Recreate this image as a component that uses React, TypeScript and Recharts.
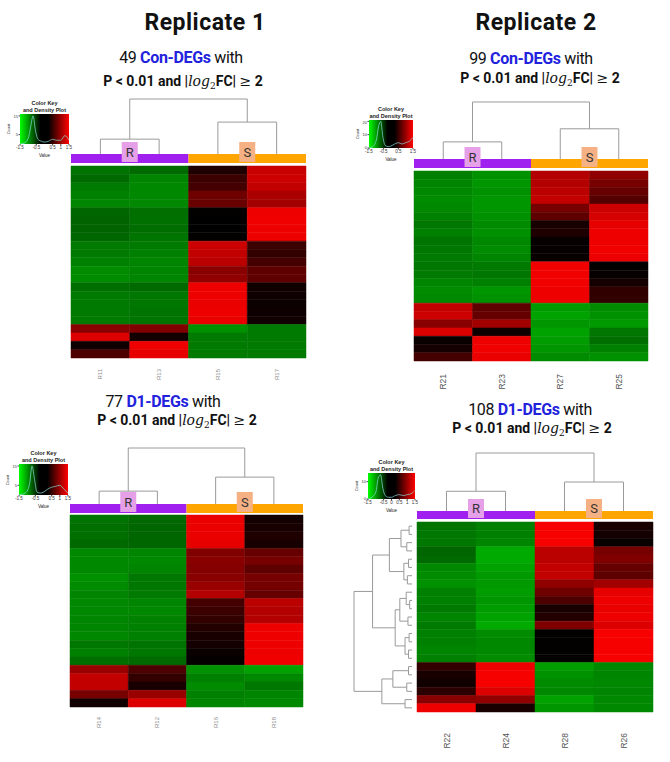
import React from "react"
import { ComposedChart, Line, XAxis, YAxis, ReferenceArea, ReferenceLine } from "recharts"

type Tree = number | [Tree, Tree, number]

// ---------- data ----------
const replicateTitles = ["Replicate 1", "Replicate 2"]
const degCounts = [49, 99, 77, 108]
const degSets = ["Con-DEGs", "Con-DEGs", "D1-DEGs", "D1-DEGs"]
const groupOfSample = ["R", "R", "S", "S"]

const samplesCon1 = ["R11", "R13", "R15", "R17"]
const samplesCon2 = ["R21", "R23", "R27", "R25"]
const samplesD1a = ["R14", "R12", "R16", "R18"]
const samplesD1b = ["R22", "R24", "R28", "R26"]

// row-scaled expression, top row first, columns in sample order
const exprCon1 = [
  [-0.68, -0.62, 0.18, 1.18],
  [-0.62, -0.78, 0.35, 1.2],
  [-0.72, -0.8, 0.4, 1.15],
  [-0.75, -0.8, 0.65, 1.0],
  [-0.78, -0.8, 0.62, 0.95],
  [-0.6, -0.65, 0.02, 1.4],
  [-0.58, -0.66, 0.0, 1.42],
  [-0.58, -0.64, 0.0, 1.4],
  [-0.6, -0.68, 0.02, 1.4],
  [-0.72, -0.72, 1.2, 0.35],
  [-0.72, -0.75, 1.15, 0.3],
  [-0.75, -0.78, 1.1, 0.4],
  [-0.82, -0.78, 0.8, 0.55],
  [-0.82, -0.78, 0.85, 0.55],
  [-0.65, -0.62, 1.4, 0.1],
  [-0.72, -0.7, 1.4, 0.08],
  [-0.72, -0.7, 1.38, 0.07],
  [-0.72, -0.68, 1.4, 0.08],
  [-0.72, -0.68, 1.38, 0.1],
  [0.8, 0.75, -0.85, -0.72],
  [1.3, 0.1, -0.72, -0.72],
  [0.08, 1.4, -0.72, -0.72],
  [0.45, 1.35, -0.72, -0.72],
]

const exprCon2 = [
  [-0.75, -0.85, 1.05, 0.85],
  [-0.78, -0.88, 1.05, 0.7],
  [-0.8, -0.85, 1.1, 0.6],
  [-0.82, -0.88, 1.15, 0.5],
  [-0.8, -0.88, 0.7, 1.2],
  [-0.75, -0.85, 0.55, 1.25],
  [-0.7, -0.82, 0.15, 1.35],
  [-0.75, -0.85, 0.18, 1.4],
  [-0.68, -0.8, 0.04, 1.4],
  [-0.7, -0.82, 0.04, 1.42],
  [-0.72, -0.78, 0.05, 1.4],
  [-0.7, -0.72, 1.42, 0.02],
  [-0.72, -0.7, 1.42, 0.04],
  [-0.78, -0.75, 1.42, 0.12],
  [-0.82, -0.88, 1.4, 0.28],
  [-0.8, -0.85, 1.4, 0.3],
  [1.15, 0.55, -0.9, -0.82],
  [1.2, 0.6, -0.95, -0.85],
  [0.8, 0.95, -0.88, -0.9],
  [1.3, 0.08, -0.95, -0.7],
  [0.05, 1.4, -0.92, -0.65],
  [0.12, 1.42, -0.88, -0.75],
  [0.4, 1.38, -0.82, -0.85],
]

const exprD1a = [
  [-0.68, -0.62, 1.38, 0.12],
  [-0.65, -0.6, 1.38, 0.15],
  [-0.65, -0.6, 1.38, 0.18],
  [-0.62, -0.6, 1.35, 0.15],
  [-0.8, -0.78, 0.75, 0.6],
  [-0.8, -0.8, 0.8, 0.7],
  [-0.8, -0.78, 0.78, 0.55],
  [-0.85, -0.7, 0.8, 0.7],
  [-0.82, -0.7, 0.9, 0.68],
  [-0.78, -0.72, 1.05, 0.6],
  [-0.8, -0.78, 0.4, 1.1],
  [-0.8, -0.8, 0.35, 1.05],
  [-0.78, -0.76, 0.3, 1.05],
  [-0.78, -0.75, 0.2, 1.4],
  [-0.8, -0.75, 0.15, 1.4],
  [-0.7, -0.68, 0.12, 1.4],
  [-0.75, -0.7, 0.05, 1.4],
  [-0.65, -0.62, 0.03, 1.42],
  [0.9, 0.45, -0.85, -0.95],
  [1.15, 0.3, -0.75, -0.8],
  [1.15, 0.15, -0.82, -0.7],
  [0.7, 0.9, -0.75, -0.78],
  [0.1, 1.3, -0.78, -0.8],
]

const exprD1b = [
  [-0.68, -0.75, 1.45, 0.15],
  [-0.7, -0.75, 1.45, 0.12],
  [-0.7, -0.78, 1.45, 0.05],
  [-0.6, -1.0, 1.1, 0.7],
  [-0.62, -1.0, 1.1, 0.75],
  [-0.8, -0.95, 1.15, 0.6],
  [-0.82, -0.9, 1.15, 0.55],
  [-0.85, -0.9, 0.85, 0.95],
  [-0.75, -0.92, 0.65, 1.35],
  [-0.75, -0.88, 0.45, 1.4],
  [-0.72, -0.92, 0.15, 1.38],
  [-0.78, -0.95, 0.2, 1.4],
  [-0.72, -1.0, 0.75, 1.3],
  [-0.75, -0.82, 0.02, 1.45],
  [-0.75, -0.8, 0.02, 1.45],
  [-0.78, -0.8, 0.02, 1.45],
  [-0.75, -0.82, 0.03, 1.45],
  [0.3, 1.4, -0.92, -0.8],
  [0.15, 1.45, -0.85, -0.78],
  [0.1, 1.45, -0.82, -0.8],
  [0.25, 1.3, -0.8, -0.78],
  [0.8, 0.85, -0.95, -0.8],
  [1.4, 0.15, -0.88, -0.8],
]

// column dendrograms: [left, right, merge height], root height 1
const colTreeCon1: Tree = [[0, 1, 0.27], [2, 3, 0.58], 1]
const colTreeCon2: Tree = [[0, 1, 0.3], [2, 3, 0.53], 1]
const colTreeD1a: Tree = [[0, 1, 0.23], [2, 3, 0.48], 1]
const colTreeD1b: Tree = [[0, 1, 0.34], [2, 3, 0.5], 1]

// row dendrogram for the last heatmap
const rowTreeD1b: Tree = [
  [
    [[[0, 1, 0.05], [2, 3, 0.09], 0.19], [[4, 5, 0.06], [6, 7, 0.08], 0.14], 0.39],
    [[[8, [9, 10, 0.04], 0.1], [11, 12, 0.07], 0.21], [[13, 14, 0.05], [15, 16, 0.06], 0.12], 0.29],
    0.68,
  ],
  [[[17, 18, 0.06], [19, 20, 0.09], 0.33], [21, 22, 0.12], 0.52],
  1,
]

// colour key density traces
const keyValues = [-1.5, -1.25, -1, -0.85, -0.7, -0.55, -0.4, -0.2, 0, 0.25, 0.5, 0.75, 1, 1.25, 1.5]
const densityCon1 = [0, 0.5, 3, 9, 15, 7, 2.5, 1.5, 1, 1.5, 2.5, 2, 2, 4.5, 2]
const densityCon2 = [0, 1, 6, 16, 20, 8, 2, 1, 1.5, 3, 4, 3, 4, 5, 8]
const densityD1a = [0, 0.5, 2, 6, 15, 8, 1.5, 1, 1.5, 3, 4, 4.5, 5, 3, 1]
const densityD1b = [0, 1, 4, 12, 14, 6, 2, 1, 1, 2, 2.5, 2, 2.5, 3, 5]
const keyTicksCon1 = [-1.5, -0.5, 0.5, 1, 1.5]
const keyTicksCon2 = [-1.5, -0.5, 0.5, 1.5]
const keyTicksD1a = [-1.5, -0.5, 0.5, 1, 1.5]
const keyTicksD1b = [-1.5, -0.5, 0, 0.5, 1, 1.5]

// ---------- helpers ----------
const SANS = "Roboto, 'Open Sans', sans-serif"
const SMALL = "'Liberation Sans', Arial, sans-serif"
const SERIF = "'DejaVu Serif', serif"
const groupColor: Record<string, string> = { R: "#a020f0", S: "#ffa500" }
const groupBox: Record<string, string> = { R: "#e5a0e8", S: "#f5b183" }

function heatColor(v: number) {
  const c = Math.round(255 * Math.min(1, Math.abs(v) / 1.5))
  return v < 0 ? `rgb(0,${c},0)` : `rgb(${c},0,0)`
}

function treeSegments(t: Tree, leafPos: (i: number) => number) {
  const segs: [number, number, number, number][] = []
  const walk = (node: Tree): [number, number] => {
    if (typeof node === "number") return [leafPos(node), 0]
    const [pa, ha] = walk(node[0])
    const [pb, hb] = walk(node[1])
    const h = node[2]
    segs.push([pa, ha, pa, h], [pa, h, pb, h], [pb, h, pb, hb])
    return [(pa + pb) / 2, h]
  }
  walk(t)
  return segs
}

type PanelSpec = {
  samples: string[]
  values: number[][]
  colTree: Tree
  rowTree?: Tree
  left: number
  top: number
  width: number
  height: number
  barGap: number
  barH: number
  dendroH: number
  labelGap: number
  labelSize: number
  labelColor: string
  rowDendroW?: number
  rowDendroGap?: number
}

function HeatPanel({ spec }: { spec: PanelSpec }) {
  const { samples, values, colTree, rowTree } = spec
  const n = values.length
  const rowPx = spec.height / n
  const colPx = spec.width / samples.length
  const barLo = n + spec.barGap / rowPx
  const barHi = barLo + spec.barH / rowPx
  const yMax = barHi + spec.dendroH / rowPx
  const rdGap = spec.rowDendroGap ?? 0
  const rdW = spec.rowDendroW ?? 0
  const sidePx = rowTree ? rdGap + rdW : 0
  const xMin = -sidePx / colPx
  const labelSpace = 44
  const mTop = 2
  const mSide = 2
  const chartW = sidePx + spec.width + 2 * mSide
  const chartH = mTop + spec.dendroH + spec.barH + spec.barGap + spec.height + labelSpace

  const groups = Array.from(new Set(groupOfSample)).map((g) => {
    const idx = groupOfSample.map((s, i) => (s === g ? i : -1)).filter((i) => i >= 0)
    return { g, from: Math.min(...idx), to: Math.max(...idx) + 1 }
  })

  const colSegs = treeSegments(colTree, (i) => i + 0.5)
  const hy = (h: number) => barHi + (h * spec.dendroH) / rowPx
  const rowSegs = rowTree ? treeSegments(rowTree, (i) => n - i - 0.5) : []
  const hx = (h: number) => -(rdGap + h * rdW) / colPx

  const boxHalf = 8 / colPx
  const data = samples.map((s, i) => ({ x: i + 0.5, name: s }))

  const renderTick = (p: any) => {
    const name = samples[Math.round(p.payload.value - 0.5)]
    const ty = p.y + spec.labelGap
    return (
      <text
        x={p.x}
        y={ty}
        transform={`rotate(-90 ${p.x} ${ty})`}
        textAnchor="end"
        dominantBaseline="central"
        fontSize={spec.labelSize}
        fill={spec.labelColor}
        fontFamily={SMALL}
      >
        {name}
      </text>
    )
  }

  return (
    <div
      style={{
        position: "absolute",
        left: spec.left - sidePx - mSide,
        top: spec.top - spec.barGap - spec.barH - spec.dendroH - mTop,
      }}
    >
      <ComposedChart
        width={chartW}
        height={chartH}
        data={data}
        margin={{ top: mTop, right: mSide, bottom: 0, left: mSide }}
      >
        <XAxis
          dataKey="x"
          type="number"
          domain={[xMin, samples.length]}
          allowDataOverflow
          ticks={samples.map((_, i) => i + 0.5)}
          interval={0}
          axisLine={false}
          tickLine={false}
          tickSize={0}
          tickMargin={0}
          height={labelSpace}
          tick={renderTick}
        />
        <YAxis type="number" domain={[0, yMax]} allowDataOverflow hide />
        {values.flatMap((row, i) =>
          row.map((v, c) => (
            <ReferenceArea
              key={`c${i}-${c}`}
              x1={c}
              x2={c + 1}
              y1={n - i - 1}
              y2={n - i}
              fill={heatColor(v)}
              fillOpacity={1}
              stroke={heatColor(v)}
              strokeWidth={0.5}
              ifOverflow="visible"
            />
          ))
        )}
        {groups.map((g) => (
          <ReferenceArea
            key={`bar-${g.g}`}
            x1={g.from}
            x2={g.to}
            y1={barLo}
            y2={barHi}
            fill={groupColor[g.g]}
            fillOpacity={1}
            ifOverflow="visible"
          />
        ))}
        {groups.map((g) => {
          const mid = (g.from + g.to) / 2
          return (
            <ReferenceArea
              key={`box-${g.g}`}
              x1={mid - boxHalf}
              x2={mid + boxHalf}
              y1={barLo + 1 / rowPx}
              y2={barHi + 12 / rowPx}
              fill={groupBox[g.g]}
              fillOpacity={1}
              ifOverflow="visible"
              label={{ value: g.g, position: "center", fontSize: 13, fill: "#333", fontFamily: SANS }}
            />
          )
        })}
        {colSegs.map((s, k) => (
          <ReferenceLine
            key={`cd${k}`}
            segment={[
              { x: s[0], y: hy(s[1]) },
              { x: s[2], y: hy(s[3]) },
            ]}
            stroke="#9a9a9a"
            strokeWidth={1}
            ifOverflow="visible"
          />
        ))}
        {rowSegs.map((s, k) => (
          <ReferenceLine
            key={`rd${k}`}
            segment={[
              { x: hx(s[1]), y: s[0] },
              { x: hx(s[3]), y: s[2] },
            ]}
            stroke="#9a9a9a"
            strokeWidth={1}
            ifOverflow="visible"
          />
        ))}
      </ComposedChart>
    </div>
  )
}

type KeySpec = {
  id: string
  left: number
  top: number
  width: number
  height: number
  density: number[]
  ticks: number[]
  yMax: number
  yTicks: number[]
}

function ColorKey({ spec }: { spec: KeySpec }) {
  const data = keyValues.map((x, i) => ({ x, y: spec.density[i] }))
  const yAxisW = 8
  const xAxisH = 9
  const cx = spec.left + spec.width / 2
  const small: React.CSSProperties = {
    position: "absolute",
    fontFamily: SMALL,
    whiteSpace: "nowrap",
    lineHeight: 1,
    color: "#222",
  }
  return (
    <>
      <div style={{ ...small, left: cx, top: spec.top - 14, transform: "translateX(-50%)", fontSize: 5.5, fontWeight: 700, textAlign: "center", lineHeight: "6.5px" }}>
        Color Key
        <br />
        and Density Plot
      </div>
      <div style={{ position: "absolute", left: spec.left - yAxisW, top: spec.top }}>
        <ComposedChart
          width={yAxisW + spec.width + 6}
          height={spec.height + xAxisH}
          data={data}
          margin={{ top: 0, right: 6, bottom: 0, left: 0 }}
        >
          <defs>
            <linearGradient id={spec.id} x1="0" y1="0" x2="1" y2="0">
              <stop offset="0%" stopColor="#00ff00" />
              <stop offset="42%" stopColor="#000000" />
              <stop offset="58%" stopColor="#000000" />
              <stop offset="100%" stopColor="#ff0000" />
            </linearGradient>
          </defs>
          <XAxis
            dataKey="x"
            type="number"
            domain={[-1.5, 1.5]}
            ticks={spec.ticks}
            interval={0}
            height={xAxisH}
            axisLine={false}
            tickSize={1.5}
            tickMargin={0.5}
            stroke="#444"
            tick={{ fontSize: 4.5, fill: "#333", fontFamily: SMALL }}
          />
          <YAxis
            type="number"
            domain={[0, spec.yMax]}
            ticks={spec.yTicks}
            width={yAxisW}
            axisLine={false}
            tickSize={1.5}
            tickMargin={0.5}
            stroke="#444"
            tick={{ fontSize: 4, fill: "#333", fontFamily: SMALL }}
          />
          <ReferenceArea x1={-1.5} x2={1.5} y1={0} y2={spec.yMax} fill={`url(#${spec.id})`} fillOpacity={1} />
          <Line
            dataKey="y"
            type="monotone"
            stroke="#8fdede"
            strokeWidth={0.7}
            dot={false}
            isAnimationActive={false}
          />
        </ComposedChart>
      </div>
      <div style={{ ...small, left: cx, top: spec.top + spec.height + 10, transform: "translateX(-50%)", fontSize: 4.5 }}>Value</div>
      <div
        style={{
          ...small,
          left: spec.left - 11,
          top: spec.top + spec.height / 2,
          transform: "translate(-50%, -50%) rotate(-90deg)",
          fontSize: 4,
        }}
      >
        Count
      </div>
    </>
  )
}

const mathSpan: React.CSSProperties = {
  display: "inline-block",
  lineHeight: 1,
  fontFamily: SERIF,
  fontWeight: 400,
  letterSpacing: 0,
}

function Criterion({ cx, top }: { cx: number; top: number }) {
  return (
    <div
      style={{
        position: "absolute",
        left: cx,
        top,
        height: 14,
        transform: "translateX(-50%)",
        whiteSpace: "nowrap",
        fontFamily: SANS,
        fontWeight: 700,
        fontSize: 14,
        lineHeight: 1,
        color: "#111",
      }}
    >
      P &lt; 0.01 and |<span style={{ ...mathSpan, fontStyle: "italic", fontSize: 14 }}>log</span>
      <span style={{ ...mathSpan, fontSize: 9, verticalAlign: -3 }}>2</span>FC|{" "}
      <span style={{ ...mathSpan, fontSize: 14 }}>≥</span> 2
    </div>
  )
}

function Heading({ idx, cx, top }: { idx: number; cx: number; top: number }) {
  return (
    <div
      style={{
        position: "absolute",
        left: cx,
        top,
        transform: "translateX(-50%)",
        whiteSpace: "nowrap",
        fontFamily: SANS,
        fontSize: 16,
        letterSpacing: -0.35,
        lineHeight: 1,
        color: "#111",
      }}
    >
      {degCounts[idx]} <span style={{ color: "#2222dd", fontWeight: 700 }}>{degSets[idx]}</span> with
    </div>
  )
}

const panels: PanelSpec[] = [
  {
    samples: samplesCon1, values: exprCon1, colTree: colTreeCon1,
    left: 71, top: 166, width: 235, height: 192, barGap: 3, barH: 9, dendroH: 55,
    labelGap: 11, labelSize: 6, labelColor: "#8a8a8a",
  },
  {
    samples: samplesCon2, values: exprCon2, colTree: colTreeCon2,
    left: 414, top: 171, width: 234, height: 190, barGap: 3, barH: 9, dendroH: 57,
    labelGap: 13, labelSize: 8.5, labelColor: "#555",
  },
  {
    samples: samplesD1a, values: exprD1a, colTree: colTreeD1a,
    left: 70, top: 515, width: 233, height: 192, barGap: 2, barH: 9, dendroH: 56,
    labelGap: 10, labelSize: 6, labelColor: "#8a8a8a",
  },
  {
    samples: samplesD1b, values: exprD1b, colTree: colTreeD1b, rowTree: rowTreeD1b,
    left: 417, top: 522, width: 236, height: 190, barGap: 3, barH: 8, dendroH: 58,
    labelGap: 21, labelSize: 8.5, labelColor: "#555", rowDendroW: 58, rowDendroGap: 5,
  },
]

const keys: KeySpec[] = [
  { id: "kg1", left: 20, top: 114, width: 49, height: 30, density: densityCon1, ticks: keyTicksCon1, yMax: 16, yTicks: [0, 5, 10, 15] },
  { id: "kg2", left: 369, top: 120, width: 44, height: 28, density: densityCon2, ticks: keyTicksCon2, yMax: 21, yTicks: [0, 5, 10, 15, 20] },
  { id: "kg3", left: 19, top: 464, width: 49, height: 31, density: densityD1a, ticks: keyTicksD1a, yMax: 16, yTicks: [0, 5, 10, 15] },
  { id: "kg4", left: 368, top: 473, width: 47, height: 26, density: densityD1b, ticks: keyTicksD1b, yMax: 15, yTicks: [0, 5, 10] },
]

export default function App() {
  return (
    <div
      style={{
        position: "absolute",
        left: 0,
        top: 0,
        width: 670,
        height: 762,
        background: "#fff",
        overflow: "hidden",
      }}
    >
      {replicateTitles.map((t, i) => (
        <div
          key={t}
          style={{
            position: "absolute",
            left: i === 0 ? 205 : 536,
            top: 9,
            transform: "translateX(-50%)",
            fontFamily: SANS,
            fontWeight: 700,
            fontSize: 23,
            letterSpacing: 0.5,
            lineHeight: 1.2,
            whiteSpace: "nowrap",
            color: "#111",
          }}
        >
          {t}
        </div>
      ))}
      <Heading idx={0} cx={181} top={50} />
      <Criterion cx={183} top={74} />
      <Heading idx={1} cx={531} top={51} />
      <Criterion cx={540} top={71} />
      <Heading idx={2} cx={163} top={394} />
      <Criterion cx={177} top={413} />
      <Heading idx={3} cx={530} top={402} />
      <Criterion cx={532} top={421} />
      {panels.map((p, i) => (
        <HeatPanel key={i} spec={p} />
      ))}
      {keys.map((k) => (
        <ColorKey key={k.id} spec={k} />
      ))}
    </div>
  )
}
